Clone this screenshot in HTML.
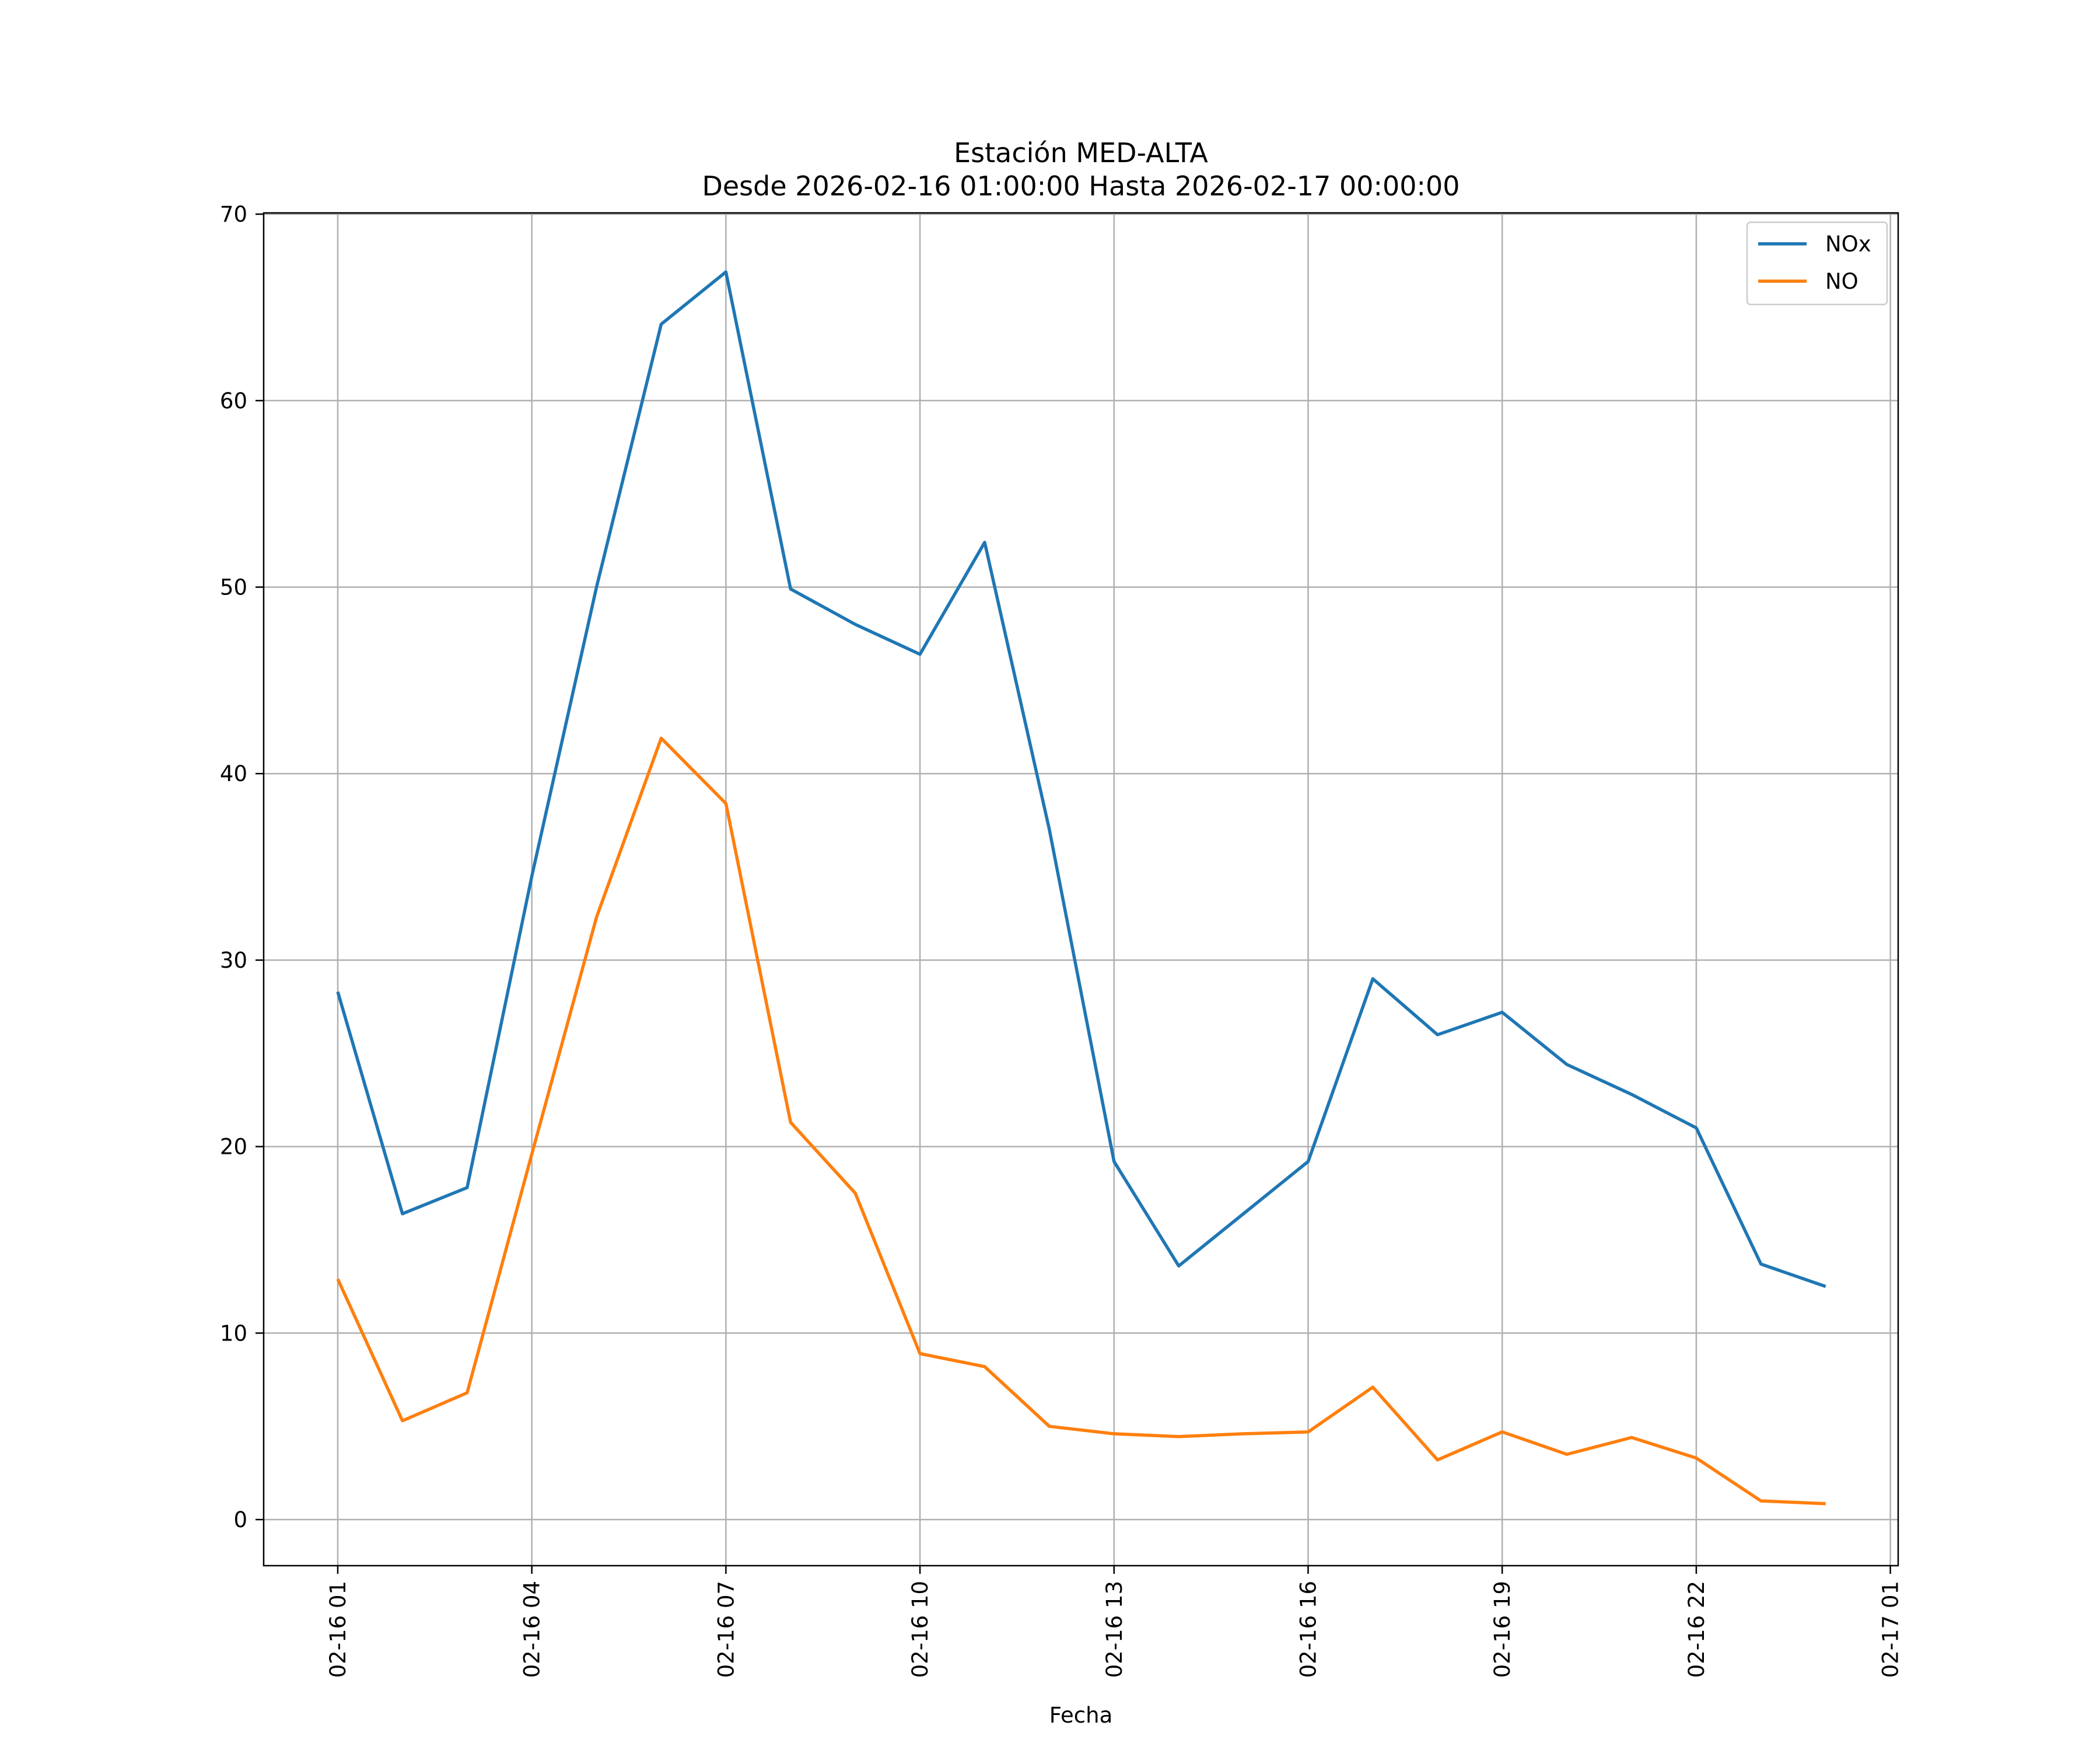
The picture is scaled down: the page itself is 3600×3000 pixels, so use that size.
<!DOCTYPE html>
<html><head><meta charset="utf-8"><style>html,body{margin:0;padding:0;background:#fff}svg{display:block}</style></head>
<body>
<svg id="chart" width="3600" height="3000" viewBox="0 0 3600 3000" xmlns="http://www.w3.org/2000/svg" font-family="'DejaVu Sans','Liberation Sans',sans-serif">
<rect width="3600" height="3000" fill="#fff"/>
<text x="1853" y="278" font-size="46" text-anchor="middle">Estación MED-ALTA</text>
<text x="1853" y="335" font-size="46" text-anchor="middle">Desde 2026-02-16 01:00:00 Hasta 2026-02-17 00:00:00</text>
<g id="grid"></g>
<g id="series"></g>
<rect x="452" y="365" width="2802" height="2319" fill="none" stroke="#000" stroke-width="2.5"/>
<g id="ticks"></g>
<text x="1853" y="2953" font-size="37" text-anchor="middle">Fecha</text>
<g>
<rect x="2995" y="381" width="240" height="141" fill="#fff" fill-opacity="0.8" stroke="#ccc" stroke-width="2.5" rx="6"/>
<line x1="3014" y1="418" x2="3097" y2="418" stroke="#1f77b4" stroke-width="5.5"/>
<text x="3129" y="431" font-size="37">NOx</text>
<line x1="3014" y1="482" x2="3097" y2="482" stroke="#ff7f0e" stroke-width="5.5"/>
<text x="3129" y="495" font-size="37">NO</text>
</g>
</svg>
<script>
const hours = [1,2,3,4,5,6,7,8,9,10,11,12,13,14,15,16,17,18,19,20,21,22,23,24];
const noxValues = [28.3,16.4,17.8,34.5,50.0,64.1,66.9,49.9,48.0,46.4,52.4,37.0,19.2,13.6,16.4,19.2,29.0,26.0,27.2,24.4,22.8,21.0,13.7,12.5];
const noValues = [12.9,5.3,6.8,19.6,32.3,41.9,38.4,21.3,17.5,8.9,8.2,5.0,4.6,4.45,4.6,4.7,7.1,3.2,4.7,3.5,4.4,3.3,1.0,0.85];
const yTicks = [0,10,20,30,40,50,60,70];
const xTickHours = [1,4,7,10,13,16,19,22,25];
const xTickLabels = ["02-16 01","02-16 04","02-16 07","02-16 10","02-16 13","02-16 16","02-16 19","02-16 22","02-17 01"];

const NS="http://www.w3.org/2000/svg";
const xScale = h => 579 + (h-1)*110.9;
const yScale = v => 2605 - v*31.97;
function mk(tag, attrs, parent){const e=document.createElementNS(NS,tag);for(const k in attrs)e.setAttribute(k,attrs[k]);parent.appendChild(e);return e;}
const grid=document.getElementById('grid'), ticks=document.getElementById('ticks'), series=document.getElementById('series');

yTicks.forEach(v=>{
  const y=yScale(v);
  const g=mk('line',{x1:452,x2:3254,y1:y,y2:y,stroke:'#b0b0b0','stroke-width':2.5},grid);
  
  
  mk('line',{x1:438,x2:452,y1:y,y2:y,stroke:'#000','stroke-width':2.5},ticks);
  const t=mk('text',{x:424,y:y+13,'font-size':37,'text-anchor':'end'},ticks);
  t.textContent=v;
  
  
});
xTickHours.forEach((h,i)=>{
  const x=xScale(h);
  const g=mk('line',{x1:x,x2:x,y1:365,y2:2684,stroke:'#b0b0b0','stroke-width':2.5},grid);
  
  
  mk('line',{x1:x,x2:x,y1:2684,y2:2698,stroke:'#000','stroke-width':2.5},ticks);
  const t=mk('text',{x:0,y:0,'font-size':37,'text-anchor':'end',transform:`translate(${x+13},2710) rotate(-90)`},ticks);
  t.textContent=xTickLabels[i];
  
  
});
function drawLine(vals,color,name){
  const pts=vals.map((v,i)=>xScale(hours[i]).toFixed(1)+','+yScale(v).toFixed(1)).join(' ');
  const p=mk('polyline',{points:pts,fill:'none',stroke:color,'stroke-width':5.5,'stroke-linejoin':'round'},series);
  
  
}
drawLine(noxValues,'#1f77b4','nox-line');
drawLine(noValues,'#ff7f0e','no-line');
</script>
</body></html>
